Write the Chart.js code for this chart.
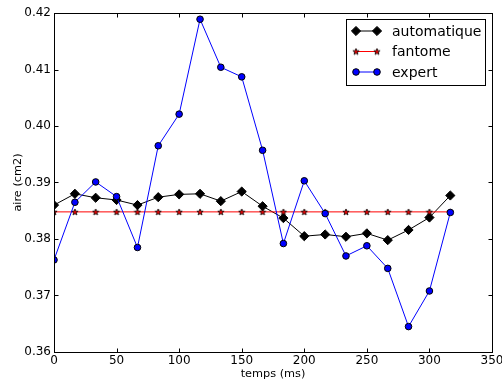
<!DOCTYPE html>
<html>
<head>
<meta charset="utf-8">
<script src="https://cdn.jsdelivr.net/npm/chart.js@4/dist/chart.umd.min.js"></script>
<style>html,body{margin:0;padding:0;background:#fff}</style>
</head>
<body>
<canvas id="c" width="502" height="383"></canvas>
<script>
// data
const temps = [0, 16.7, 33.3, 50, 66.7, 83.3, 100, 116.7, 133.3, 150, 166.7, 183.3, 200, 216.7, 233.3, 250, 266.7, 283.3, 300, 316.7];
const automatique = [0.3860, 0.3880, 0.3873, 0.3869, 0.3860, 0.3874, 0.3879, 0.3880, 0.3867, 0.3884, 0.3858, 0.3837, 0.3805, 0.3808, 0.3804, 0.3810, 0.3798, 0.3816, 0.3838, 0.3877];
const fantome = [0.3848, 0.3848, 0.3848, 0.3848, 0.3848, 0.3848, 0.3848, 0.3848, 0.3848, 0.3848, 0.3848, 0.3848, 0.3848, 0.3848, 0.3848, 0.3848, 0.3848, 0.3848, 0.3848, 0.3848];
const expert = [0.3763, 0.3865, 0.3901, 0.3875, 0.3785, 0.3965, 0.4021, 0.4189, 0.4104, 0.4087, 0.3957, 0.3792, 0.3903, 0.3845, 0.3770, 0.3788, 0.3748, 0.3645, 0.3708, 0.3847];
const xTicks = [0, 50, 100, 150, 200, 250, 300, 350];
const yTicks = [0.36, 0.37, 0.38, 0.39, 0.40, 0.41, 0.42];
const seriesNames = ['automatique', 'fantome', 'expert'];

const FONT = '"DejaVu Sans", "Bitstream Vera Sans", sans-serif';

// small filled star marker (matplotlib 'r*')
function starMarker() {
  const cv = document.createElement('canvas');
  cv.width = 8; cv.height = 8;
  const g = cv.getContext('2d');
  g.beginPath();
  for (let i = 0; i < 10; i++) {
    const r = i % 2 === 0 ? 3.3 : 1.4;
    const a = -Math.PI / 2 + i * Math.PI / 5;
    const px = 4 + r * Math.cos(a), py = 4.3 + r * Math.sin(a);
    if (i === 0) g.moveTo(px, py); else g.lineTo(px, py);
  }
  g.closePath();
  g.fillStyle = '#ee0000';
  g.fill();
  g.lineWidth = 0.8;
  g.strokeStyle = '#000';
  g.stroke();
  return cv;
}
const star = starMarker();

const pts = (ys) => ys.map((y, i) => ({ x: temps[i], y }));

const datasets = [
  { label: seriesNames[0], data: pts(automatique), borderColor: '#000', borderWidth: 1,
    pointStyle: 'rectRot', pointRadius: 4.6, backgroundColor: '#000', pointBorderColor: '#000',
    pointBorderWidth: 1, order: 2 },
  { label: seriesNames[1], data: pts(fantome), borderColor: '#ff0000', borderWidth: 1,
    pointStyle: star, pointRadius: 3, order: 1 },
  { label: seriesNames[2], data: pts(expert), borderColor: '#0000ff', borderWidth: 1,
    pointStyle: 'circle', pointRadius: 3.3, backgroundColor: '#0000ff', pointBorderColor: '#000',
    pointBorderWidth: 1, order: 0 },
];

// frame on all four sides, inward ticks, and the boxed legend
const mplFrame = {
  id: 'mplFrame',
  afterDraw(chart) {
    const { ctx, chartArea: a, scales: { x, y } } = chart;
    ctx.save();
    ctx.strokeStyle = '#000';
    ctx.lineWidth = 1;
    const L = Math.round(a.left) + 0.5, R = Math.round(a.right) + 0.5;
    const T = Math.round(a.top) + 0.5, B = Math.round(a.bottom) + 0.5;
    ctx.strokeRect(L, T, R - L, B - T);
    const tl = 4;
    ctx.beginPath();
    xTicks.forEach(v => {
      const px = Math.round(x.getPixelForValue(v)) + 0.5;
      ctx.moveTo(px, B); ctx.lineTo(px, B - tl);
      ctx.moveTo(px, T); ctx.lineTo(px, T + tl);
    });
    yTicks.forEach(v => {
      const py = Math.round(y.getPixelForValue(v)) + 0.5;
      ctx.moveTo(L, py); ctx.lineTo(L + tl, py);
      ctx.moveTo(R, py); ctx.lineTo(R - tl, py);
    });
    ctx.stroke();

    // legend
    const bx = 346.5, by = 19.5, bw = 139, bh = 66;
    ctx.fillStyle = '#fff';
    ctx.fillRect(bx, by, bw, bh);
    ctx.strokeRect(bx, by, bw, bh);
    const rows = [31, 51.5, 72];
    const x0 = 356, x1 = 377;
    chart.data.datasets.forEach((ds, i) => {
      const ry = rows[i];
      ctx.beginPath();
      ctx.strokeStyle = ds.borderColor;
      ctx.lineWidth = 1;
      ctx.moveTo(x0, ry); ctx.lineTo(x1, ry);
      ctx.stroke();
      [x0, x1].forEach(mx => {
        ctx.fillStyle = ds.backgroundColor || '#000';
        ctx.strokeStyle = ds.pointBorderColor || '#000';
        ctx.lineWidth = ds.pointBorderWidth || 0;
        Chart.helpers.drawPoint(ctx, {
          pointStyle: ds.pointStyle, radius: ds.pointRadius, rotation: 0,
          borderWidth: ds.pointBorderWidth || 0
        }, mx, ry);
      });
      ctx.fillStyle = '#000';
      ctx.font = '14px ' + FONT;
      ctx.textAlign = 'left';
      ctx.textBaseline = 'middle';
      ctx.fillText(ds.label, 392, ry + 1);
    });
    ctx.restore();
  }
};

new Chart(document.getElementById('c'), {
  type: 'scatter',
  data: { datasets: datasets.map(d => Object.assign({ showLine: true, pointHoverRadius: d.pointRadius }, d)) },
  options: {
    responsive: false,
    animation: false,
    devicePixelRatio: 1,
    layout: { padding: { top: 13, right: 10, left: 0, bottom: 0 } },
    plugins: { legend: { display: false }, tooltip: { enabled: false } },
    scales: {
      x: {
        type: 'linear', min: 0, max: 350,
        afterBuildTicks: (s) => { s.ticks = xTicks.map(v => ({ value: v })); },
        afterFit: (s) => { s.height = 31; s.paddingLeft = 0; s.paddingRight = 0; },
        grid: { display: false, drawTicks: false },
        border: { display: false },
        ticks: { color: '#000', padding: 2, maxRotation: 0, font: { family: FONT, size: 12 },
                 callback: (v) => String(v) },
        title: { display: true, text: 'temps (ms)', color: '#000', padding: { top: 0, bottom: 2 },
                 font: { family: FONT, size: 11.3 } }
      },
      y: {
        type: 'linear', min: 0.36, max: 0.42,
        afterBuildTicks: (s) => { s.ticks = yTicks.map(v => ({ value: v })); },
        afterFit: (s) => { s.width = 54; s.paddingTop = 0; s.paddingBottom = 0; },
        grid: { display: false, drawTicks: false },
        border: { display: false },
        ticks: { color: '#000', padding: 3, font: { family: FONT, size: 12 },
                 callback: (v) => v.toFixed(2) },
        title: { display: true, text: 'aire (cm2)', color: '#000', padding: { top: 11, bottom: 0 },
                 font: { family: FONT, size: 11.3 } }
      }
    }
  },
  plugins: [mplFrame]
});
</script>
</body>
</html>
